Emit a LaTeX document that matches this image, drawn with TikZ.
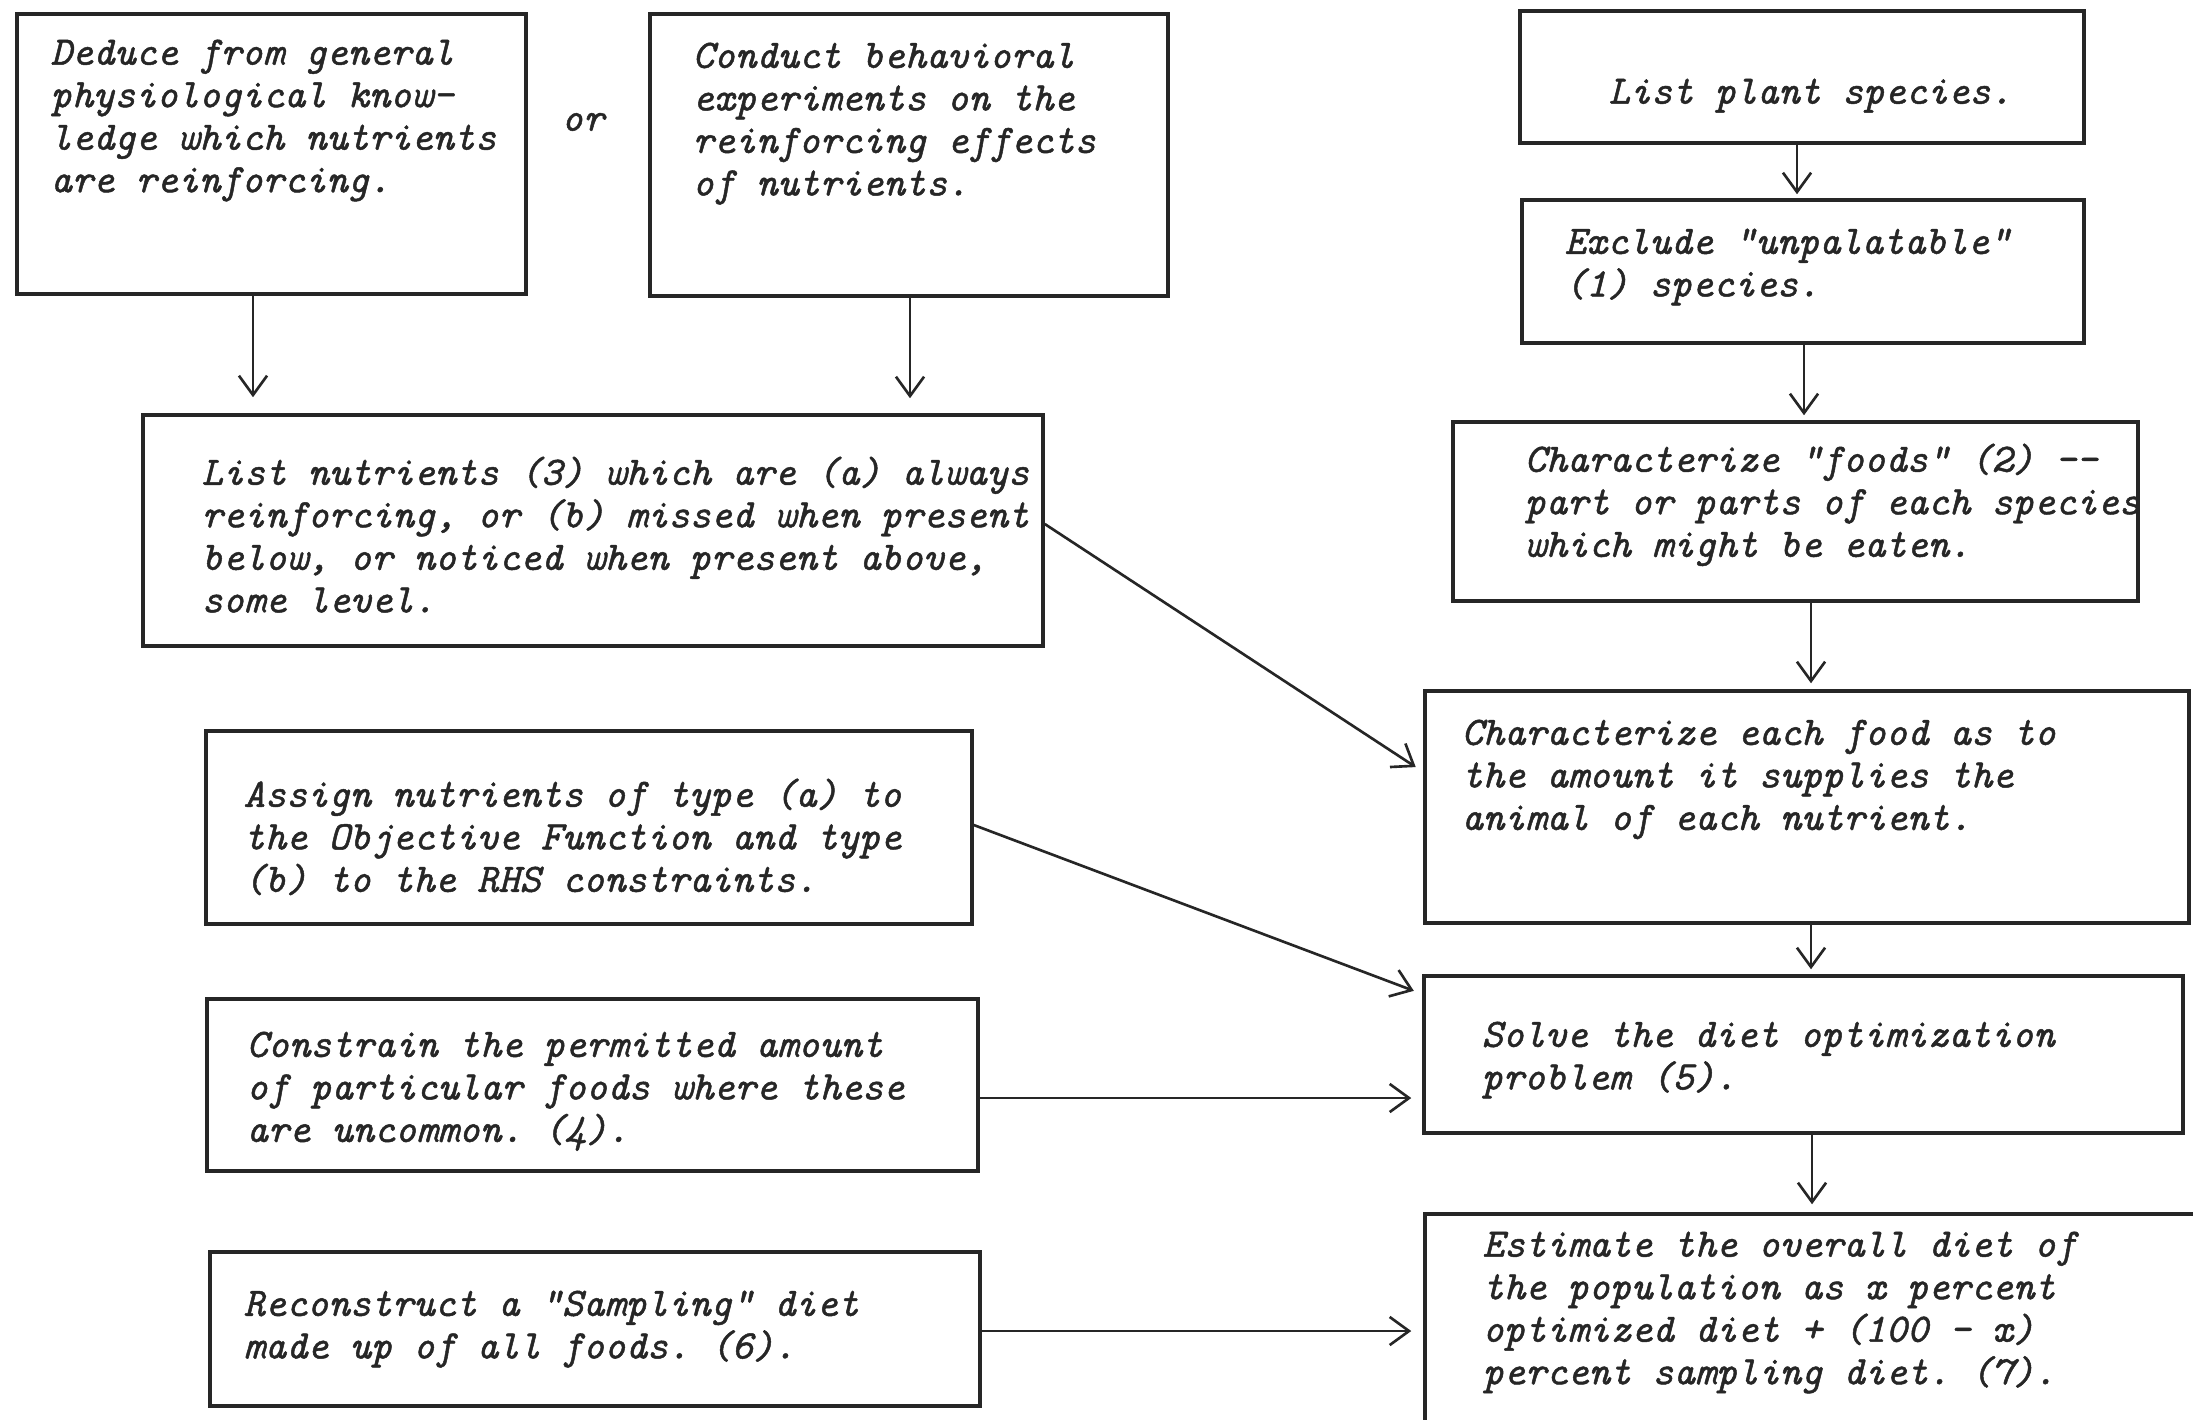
\documentclass[tikz,border=0pt]{standalone}
\usepackage{fontspec}
\setmonofont{Latin Modern Mono}[FakeBold=1.2]
\usetikzlibrary{arrows.meta,fit}
\begin{document}
\begin{tikzpicture}[x=0.1mm,y=-0.1mm,
  box/.style={draw=black!85, line width=1pt, inner sep=0pt},
  txt/.style={anchor=north west, align=left, inner sep=0pt, text=black!85,
    font=\fontsize{11.5}{12.1}\selectfont\ttfamily\itshape},
  arr/.style={draw=black!85, line width=0.75pt, -{Straight Barb[length=5.5pt,width=8pt]}}]
\clip (0,0) rectangle (2193,1419);
\fill[white] (0,0) rectangle (2193,1419);
% boxes
\node[box, fit={(17,14)(526,294)}] (A) {};
\node[box, fit={(650,14)(1168,296)}] (B) {};
\node[box, fit={(143,415)(1043,646)}] (C) {};
\node[box, fit={(206,731)(972,924)}] (D) {};
\node[box, fit={(207,999)(978,1171)}] (E) {};
\node[box, fit={(210,1252)(980,1406)}] (F) {};
\node[box, fit={(1520,11)(2084,143)}] (G) {};
\node[box, fit={(1522,200)(2084,343)}] (H) {};
\node[box, fit={(1453,422)(2138,601)}] (I) {};
\node[box, fit={(1425,691)(2189,923)}] (J) {};
\node[box, fit={(1424,976)(2183,1133)}] (K) {};
\node[box, fit={(1425,1214)(2230,1460)}] (L) {};
% texts
\node[txt] (tA) at (50,39) {Deduce from general\\physiological know-\\ledge which nutrients\\are reinforcing.};
\node[txt, anchor=center] (or) at (583,122) {or};
\node[txt] (tB) at (692,42) {Conduct behavioral\\experiments on the\\reinforcing effects\\of nutrients.};
\node[txt] (tG) at (1608,78) {List plant species.};
\node[txt] (tH) at (1564,228) {Exclude "unpalatable"\\(1) species.};
\node[txt] (tI) at (1524,443) {Characterize "foods" (2) -{}-\\part or parts of each species\\which might be eaten.};
\node[txt] (tC) at (201,456) {List nutrients (3) which are (a) always\\reinforcing, or (b) missed when present\\below, or noticed when present above,\\some level.};
\node[txt] (tJ) at (1461,719) {Characterize each food as to\\the amount it supplies the\\animal of each nutrient.};
\node[txt] (tD) at (243,778) {Assign nutrients of type (a) to\\the Objective Function and type\\(b) to the RHS constraints.};
\node[txt] (tK) at (1481,1021) {Solve the diet optimization\\problem (5).};
\node[txt] (tE) at (246,1031) {Constrain the permitted amount\\of particular foods where these\\are uncommon. (4).};
\node[txt] (tL) at (1482,1231) {Estimate the overall diet of\\the population as x percent\\optimized diet + (100 - x)\\percent sampling diet. (7).};
\node[txt] (tF) at (243,1290) {Reconstruct a "Sampling" diet\\made up of all foods. (6).};
% connectors
\draw[arr, shorten >=16*0.2845pt] (A.south -| 253,0) -- (C.north -| 253,0);
\draw[arr, shorten >=15*0.2845pt] (B.south -| 910,0) -- (C.north -| 910,0);
\draw[arr, shorten >=4*0.2845pt] (G.south -| 1797,0) -- (H.north -| 1797,0);
\draw[arr, shorten >=5*0.2845pt] (H.south -| 1804,0) -- (I.north -| 1804,0);
\draw[arr, shorten >=6*0.2845pt] (I.south -| 1811,0) -- (J.north -| 1811,0);
\draw[arr, shorten >=5*0.2845pt] (J.south -| 1811,0) -- (K.north -| 1811,0);
\draw[arr, shorten >=8*0.2845pt] (K.south -| 1812,0) -- (L.north -| 1812,0);
\draw[arr, shorten >=9*0.2845pt] (C.east |- 0,524) -- (J.west |- 0,772);
\draw[arr, shorten >=9*0.2845pt] (D.east |- 0,825) -- (K.west |- 0,994);
\draw[arr, shorten >=11*0.2845pt] (E.east |- 0,1098) -- (K.west |- 0,1098);
\draw[arr, shorten >=12*0.2845pt] (F.east |- 0,1331) -- (L.west |- 0,1331);
\end{tikzpicture}
\end{document}
